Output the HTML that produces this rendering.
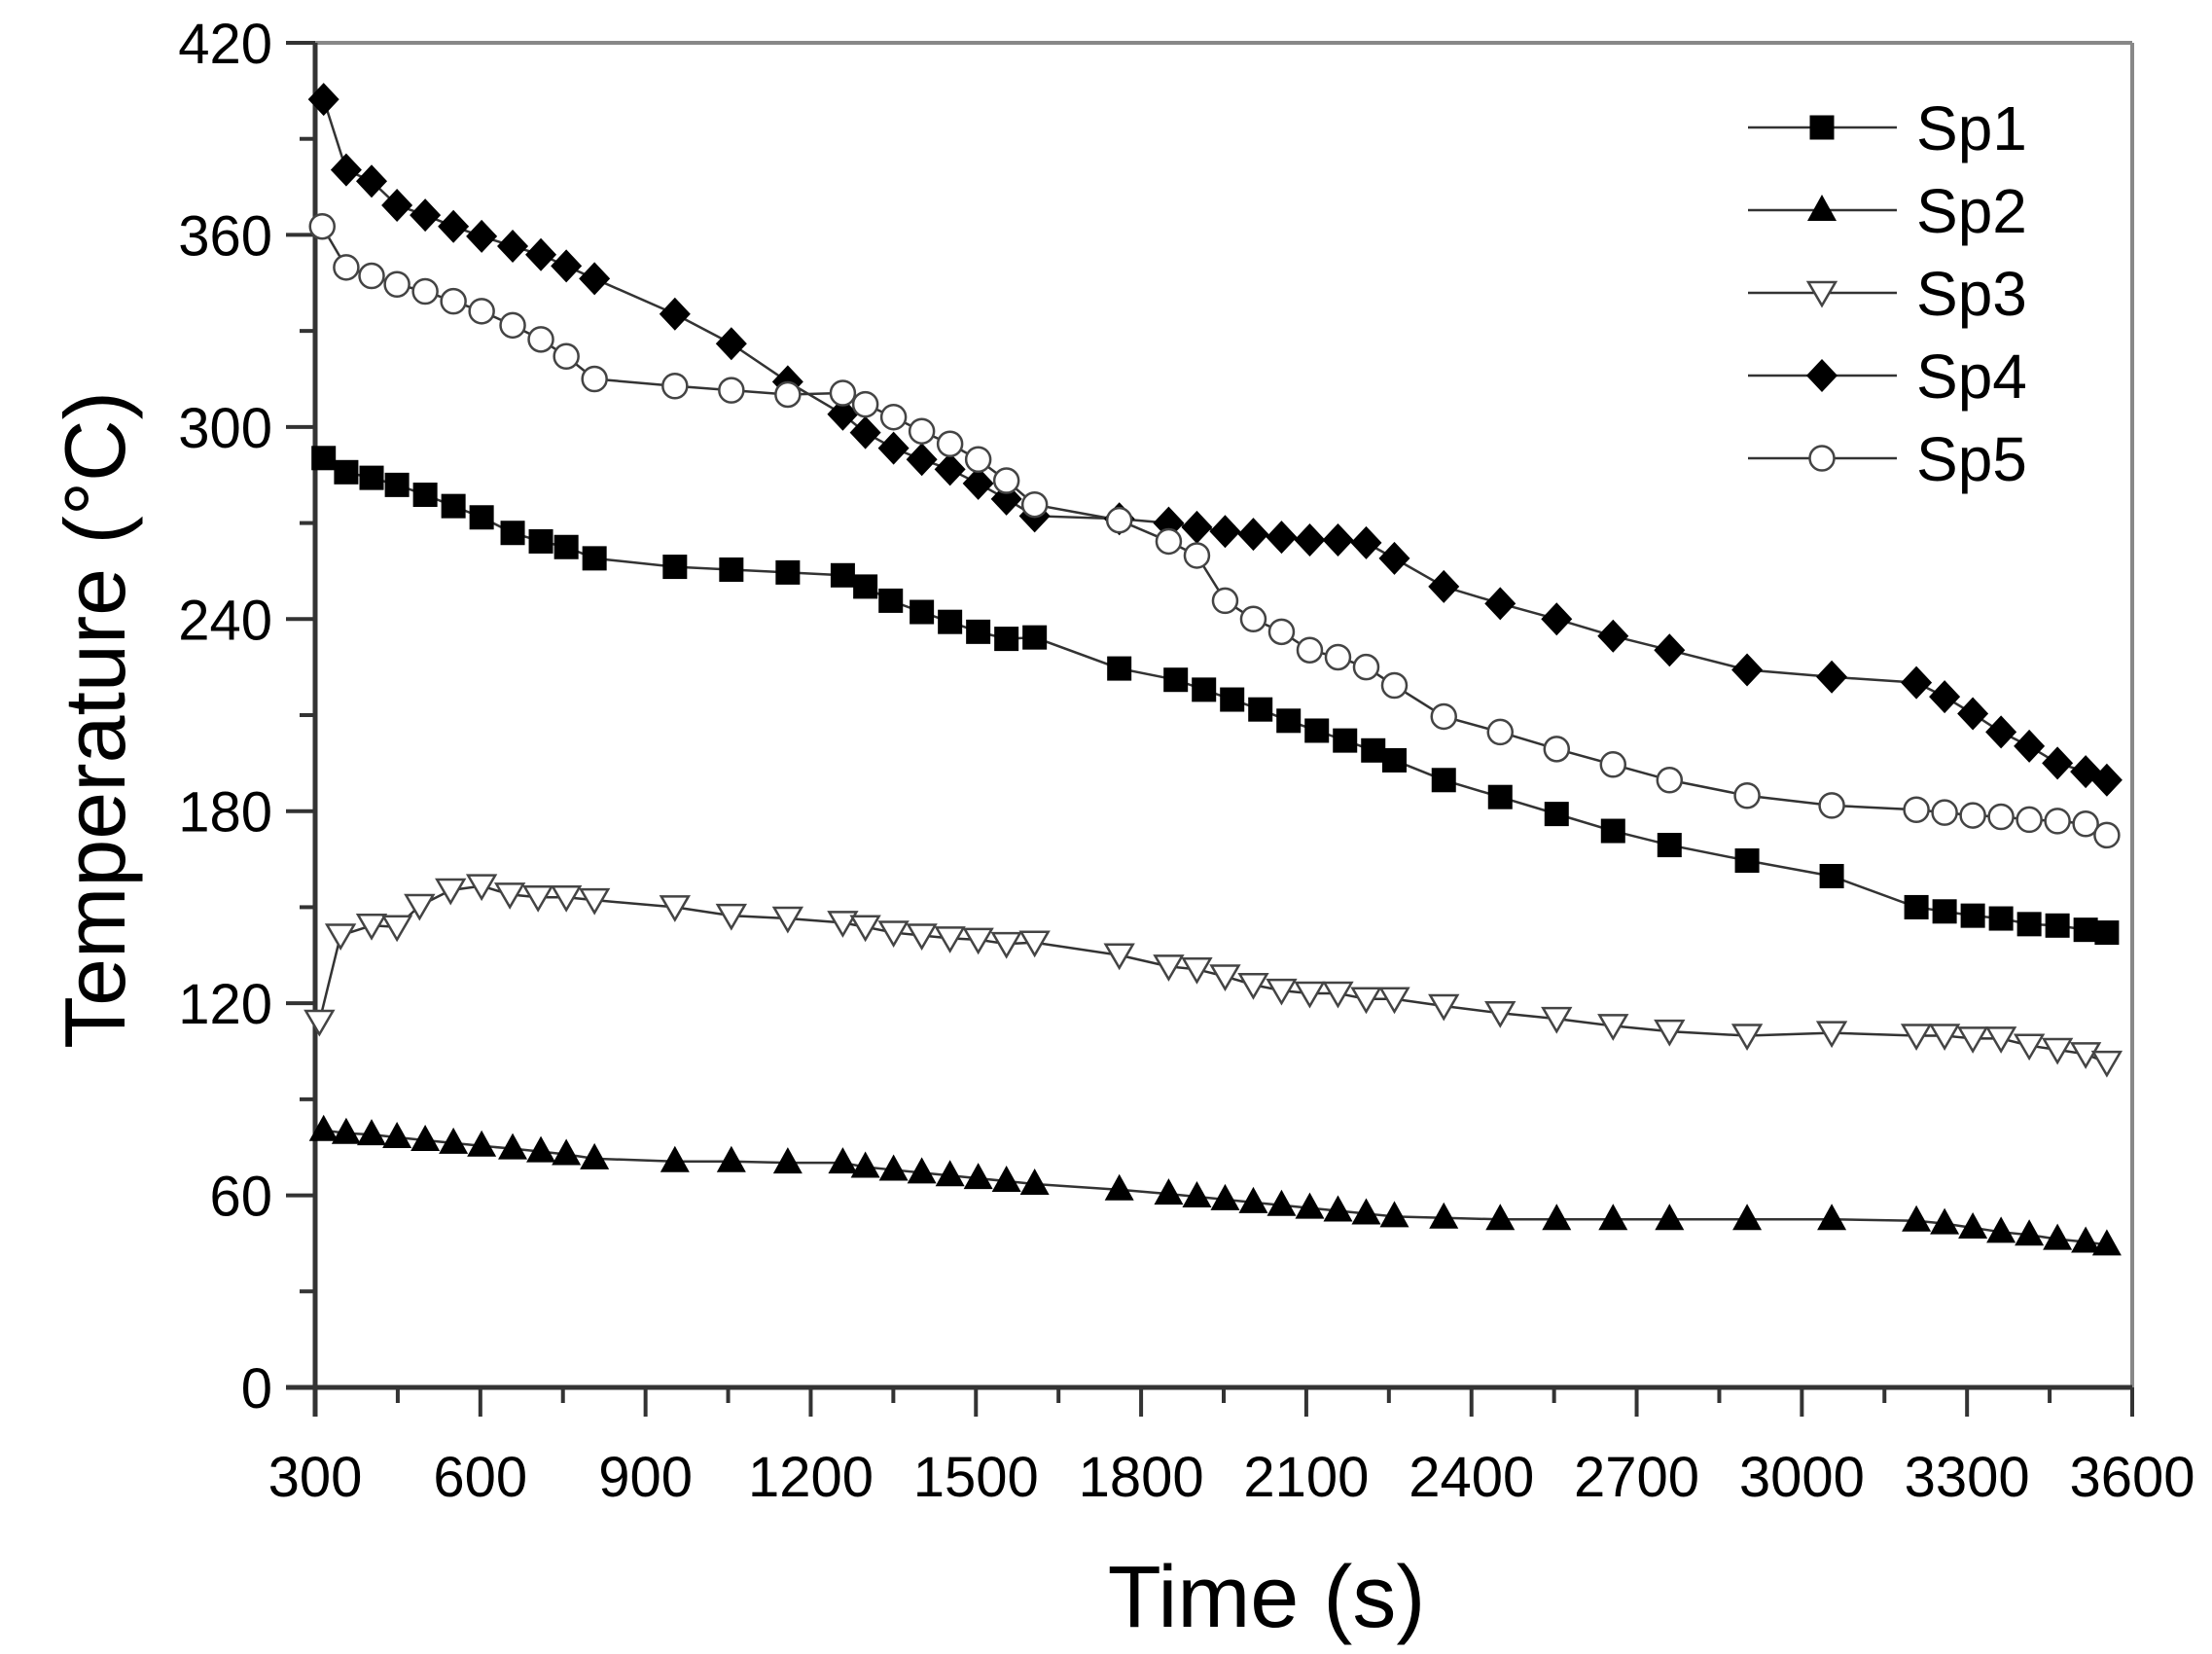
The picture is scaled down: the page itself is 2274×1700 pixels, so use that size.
<!DOCTYPE html>
<html><head><meta charset="utf-8"><style>html,body{margin:0;padding:0;background:#fff}svg{display:block}</style></head>
<body>
<svg id="s" width="2274" height="1700" viewBox="0 0 2274 1700" xmlns="http://www.w3.org/2000/svg" font-family="Liberation Sans, Arial, sans-serif">
<rect width="2274" height="1700" fill="#fff"/>
<g id="ax"></g><g id="data"></g>
<text x="1302" y="1672" font-size="90" text-anchor="middle">Time  (s)</text>
<text transform="translate(128,740) rotate(-90)" font-size="88" text-anchor="middle">Temperature (°C)</text>
</svg>
<script>
const NS="http://www.w3.org/2000/svg";
const ax=document.getElementById('ax'), dg=document.getElementById('data');
function el(tag,attrs,parent,txt){const e=document.createElementNS(NS,tag);for(const k in attrs)e.setAttribute(k,attrs[k]);if(txt!==undefined)e.textContent=txt;(parent||dg).appendChild(e);return e;}
const L=324,R=2192,T=44,B=1426;
const X=t=>L+(t-300)*(R-L)/3300, Yv=v=>B-v*(B-T)/420;
el('line',{x1:L,y1:T,x2:R,y2:T,stroke:'#888',"stroke-width":4},ax);
el('line',{x1:R,y1:T,x2:R,y2:B,stroke:'#888',"stroke-width":4},ax);
el('line',{x1:L,y1:T,x2:L,y2:B+30,stroke:'#333',"stroke-width":5},ax);
el('line',{x1:L-30,y1:B,x2:R,y2:B,stroke:'#333',"stroke-width":5},ax);
for(let v=0;v<=420;v+=30){const y=Yv(v);const maj=v%60==0;el('line',{x1:L-(maj?30:16),y1:y,x2:L,y2:y,stroke:'#333',"stroke-width":4},ax);
 if(maj)el('text',{x:L-44,y:y+21,"font-size":58,"text-anchor":"end"},ax,String(v));}
for(let t=300;t<=3600;t+=150){const x=X(t);const maj=(t-300)%300==0;el('line',{x1:x,y1:B,x2:x,y2:B+(maj?30:16),stroke:'#333',"stroke-width":4},ax);
 if(maj)el('text',{x:x,y:B+112,"font-size":58,"text-anchor":"middle"},ax,String(t));}
const PX=px=>L+(px-222)*(R-L)/1288, PY=py=>B-(982-py)*(B-T)/952;
const S1=[[228,324],[244,334],[262,338],[280,343],[300,350],[320,358],[340,366],[362,377],[382,383],[400,387],[420,395],[477,401],[517,403],[557,405],[596,407],[612,415],[630,425],[652,433],[672,440],[692,447],[712,452],[732,451],[792,473],[832,481],[852,488],[872,495],[892,502],[912,510],[932,517],[952,524],[972,531],[987,538],[1022,552],[1062,564],[1102,576],[1142,588],[1182,598],[1237,609],[1297,620],[1357,642],[1377,645],[1397,648],[1417,650],[1437,654],[1457,655],[1477,658],[1492,660]];
const S2=[[228,800],[244,802],[262,803],[280,805],[300,807],[320,809],[340,811],[362,813],[382,815],[400,817],[420,820],[477,822],[517,822],[557,823],[596,823],[612,826],[632,828],[652,830],[672,832],[692,834],[712,836],[732,838],[792,842],[827,845],[847,847],[867,849],[887,851],[907,853],[927,855],[947,857],[967,859],[987,861],[1022,862],[1062,863],[1102,863],[1142,863],[1182,863],[1237,863],[1297,863],[1357,864],[1377,866],[1397,869],[1417,872],[1437,874],[1457,877],[1477,879],[1492,881]];
const S3=[[225,723],[240,662],[262,655],[280,656],[296,641],[318,630],[340,627],[360,633],[380,635],[400,635],[420,637],[477,642],[517,648],[557,650],[596,653],[612,656],[632,660],[652,662],[672,664],[692,665],[712,668],[732,667],[792,676],[827,684],[847,686],[867,691],[887,697],[907,701],[927,703],[947,703],[967,707],[987,707],[1022,712],[1062,717],[1102,721],[1142,726],[1182,730],[1237,733],[1297,731],[1357,733],[1377,733],[1397,735],[1417,735],[1437,740],[1457,743],[1477,746],[1492,752]];
const S4=[[228,70],[244,120],[262,128],[280,145],[300,152],[320,160],[340,167],[362,174],[382,180],[400,188],[420,197],[477,222],[517,243],[557,270],[596,293],[612,306],[632,317],[652,325],[672,332],[692,342],[712,353],[732,365],[792,367],[827,370],[847,373],[867,376],[887,378],[907,380],[927,382],[947,382],[967,384],[987,395],[1022,415],[1062,427],[1102,438],[1142,450],[1182,460],[1237,474],[1297,479],[1357,483],[1377,493],[1397,505],[1417,518],[1437,528],[1457,540],[1477,546],[1492,552]];
const S5=[[227,160],[244,189],[262,195],[280,201],[300,206],[320,213],[340,220],[362,230],[382,240],[400,252],[420,268],[477,273],[517,276],[557,279],[596,278],[612,286],[632,295],[652,305],[672,314],[692,325],[712,340],[732,357],[792,368],[827,383],[847,393],[867,425],[887,438],[907,447],[927,460],[947,465],[967,472],[987,485],[1022,507],[1062,518],[1102,530],[1142,541],[1182,552],[1237,563],[1297,570],[1357,573],[1377,575],[1397,577],[1417,578],[1437,580],[1457,581],[1477,583],[1492,591]];
function marker(type,x,y){
 if(type==1)el('rect',{x:x-12.5,y:y-12.5,width:25,height:25,fill:'#000'});
 else if(type==2)el('polygon',{points:`${x},${y-16} ${x-15},${y+11} ${x+15},${y+11}`,fill:'#000'});
 else if(type==3)el('polygon',{points:`${x-14},${y-11} ${x+14},${y-11} ${x},${y+13}`,fill:'#fff',stroke:'#444',"stroke-width":2.5});
 else if(type==4)el('polygon',{points:`${x},${y-17} ${x+16},${y} ${x},${y+17} ${x-16},${y}`,fill:'#000'});
 else el('circle',{cx:x,cy:y,r:12.5,fill:'#fff',stroke:'#444',"stroke-width":2.5});
}
const series=[[S1,1],[S2,2],[S3,3],[S4,4],[S5,5]];
series.forEach(([s,tp])=>{
 el('polyline',{points:s.map(p=>PX(p[0])+','+PY(p[1])).join(' '),fill:'none',stroke:'#333',"stroke-width":2.5});
});
series.forEach(([s,tp])=>{s.forEach(p=>marker(tp,PX(p[0]),PY(p[1])));});
const names=['Sp1','Sp2','Sp3','Sp4','Sp5'];
names.forEach((n,i)=>{const y=131+i*85;
 el('line',{x1:1797,y1:y,x2:1950,y2:y,stroke:'#333',"stroke-width":2.5});
 marker(i+1,1873,y);
 el('text',{x:1970,y:y+23,"font-size":64},dg,n);
});
</script>
</body></html>
